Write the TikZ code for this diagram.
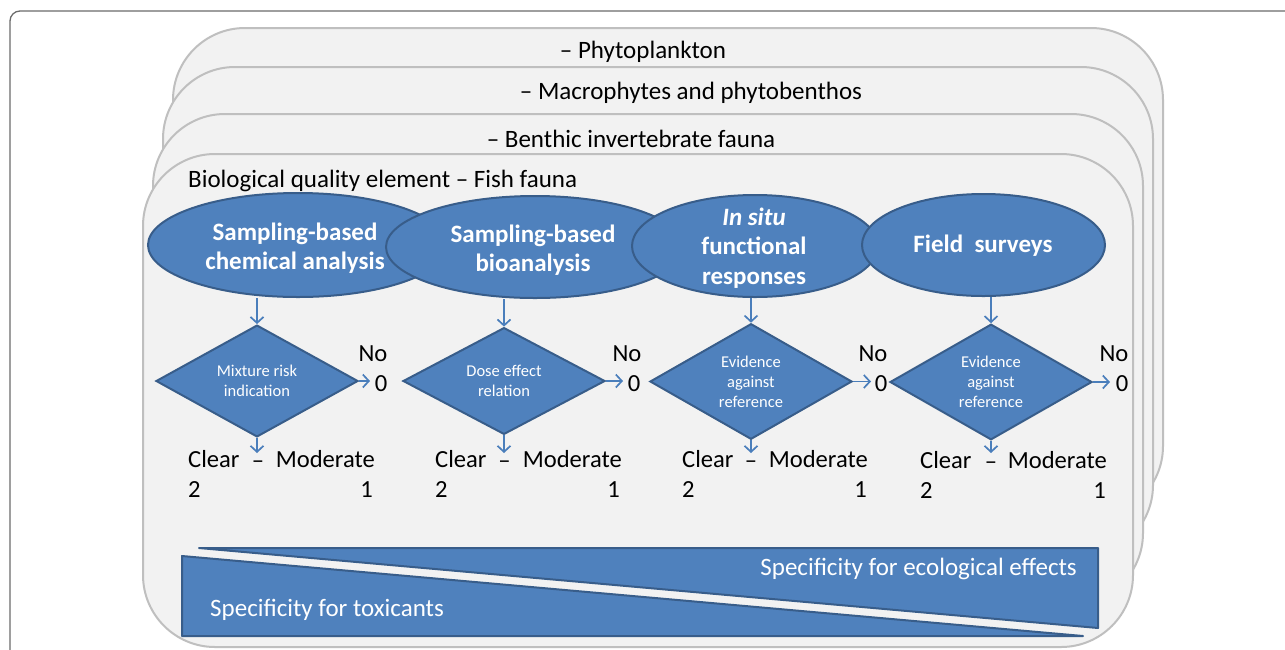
\documentclass[tikz,border=0pt]{standalone}
\usepackage{fontspec}
\setmainfont{Carlito}
\usetikzlibrary{shapes.geometric,arrows.meta,calc}
\definecolor{cardfill}{HTML}{F2F2F2}
\definecolor{cardline}{HTML}{BFBFBF}
\definecolor{bluefill}{HTML}{4F81BD}
\definecolor{blueline}{HTML}{385D8A}
\definecolor{arrowblue}{HTML}{4A7EBB}
\definecolor{framegray}{HTML}{6B6B6B}
\begin{document}
\begin{tikzpicture}[x=1pt,y=-1pt,
  card/.style={draw=cardline,fill=cardfill,line width=2pt,rounded corners=72pt},
  oval/.style={ellipse,draw=blueline,fill=bluefill,line width=2pt,inner sep=0pt},
  ovaltext/.style={text=white,font=\fontsize{25}{29.5}\selectfont\bfseries,align=center,inner sep=0pt},
  decision/.style={diamond,draw=blueline,fill=bluefill,line width=2pt,inner sep=0pt,minimum width=202pt,minimum height=98pt,text=white,font=\fontsize{16.5}{20}\selectfont,align=center},
  arr/.style={draw=arrowblue,line width=1.7pt,-{Straight Barb[length=6pt,width=13pt]}},
  lbl/.style={font=\fontsize{24.6}{29}\selectfont,inner sep=0pt},
  head/.style={font=\fontsize{25}{29}\selectfont,inner sep=0pt},
  wedge/.style={draw=blueline,fill=bluefill,line width=2pt,line join=round},
  wtext/.style={text=white,font=\fontsize{25}{29}\selectfont,inner sep=0pt}
]
\fill[white] (0,0) rectangle (1285,649);
\useasboundingbox (0,0) rectangle (1285,649);
% outer frame
\draw[framegray,line width=1.3pt,rounded corners=10pt] (1300,11) -- (10,11) -- (10,670);
% stacked cards
\draw[card] (173,28) rectangle (1163,518);
\draw[card] (163,67) rectangle (1153,557);
\draw[card] (153,114) rectangle (1143,605);
\draw[card] (143,154) rectangle (1133,647);
\node[head,anchor=base] (h1) at (643,58) {– Phytoplankton};
\node[head,anchor=base] (h2) at (691,99) {– Macrophytes and phytobenthos};
\node[head,anchor=base] (h3) at (631,147) {– Benthic invertebrate fauna};
\node[head,anchor=base west] (h4) at (188,187) {Biological quality element – Fish fauna};
% ellipses
\node[oval,minimum width=300pt,minimum height=104pt] (e1) at (298,245) {};
\node[ovaltext] (t1) at (295,248) {Sampling-based\\chemical analysis};
\node[oval,minimum width=298pt,minimum height=102pt] (e2) at (535,247) {};
\node[ovaltext] (t2) at (533,250) {Sampling-based\\bioanalysis};
\node[oval,minimum width=246pt,minimum height=102pt] (e3) at (755,246) {};
\node[ovaltext] (t3) at (754,248) {\itshape In situ\\functional\\responses};
\node[oval,minimum width=243pt,minimum height=102pt] (e4) at (983.5,245) {};
\node[ovaltext] (t4) at (983,246) {Field\ \ surveys};
% diamonds
\node[decision] (d1) at (257,381) {Mixture risk\\indication};
\node[decision] (d2) at (504,381) {Dose effect\\relation};
\node[decision] (d3) at (751,381.5) {Evidence\\against\\reference};
\node[decision] (d4) at (991,382) {Evidence\\against\\reference};
% arrow ends
\coordinate (r1) at (370,381);
\coordinate (r2) at (623,381);
\coordinate (r3) at (871,381.5);
\coordinate (r4) at (1110,382);
\coordinate (b1) at (257,453);
\coordinate (b2) at (504,453);
\coordinate (b3) at (751,453);
\coordinate (b4) at (991,453);
\foreach \i in {1,2,3,4}{
  \draw[arr] (d\i.north |- e\i.south) -- (d\i.north);
  \draw[arr] (d\i.east) -- (r\i);
  \draw[arr] (d\i.south) -- (b\i);
}
% labels
\node[lbl,anchor=base] (no1) at (373,361) {No};
\node[lbl,anchor=base] (z1) at (381,391) {0};
\node[lbl,anchor=base] (no2) at (627,361) {No};
\node[lbl,anchor=base] (z2) at (634,391) {0};
\node[lbl,anchor=base] (no3) at (873,361) {No};
\node[lbl,anchor=base] (z3) at (881,391) {0};
\node[lbl,anchor=base] (no4) at (1114,361) {No};
\node[lbl,anchor=base] (z4) at (1122,391) {0};
\node[lbl,anchor=base west] (c1) at (188,467) {Clear};
\node[lbl,anchor=base] (s1) at (258,468) {–};
\node[lbl,anchor=base east] (m1) at (375,467) {Moderate};
\node[lbl,anchor=base west] (two1) at (188,497) {2};
\node[lbl,anchor=base east] (one1) at (373,497) {1};
\node[lbl,anchor=base west] (c2) at (435,467) {Clear};
\node[lbl,anchor=base] (s2) at (504.5,468) {–};
\node[lbl,anchor=base east] (m2) at (622,467) {Moderate};
\node[lbl,anchor=base west] (two2) at (435,497) {2};
\node[lbl,anchor=base east] (one2) at (620,497) {1};
\node[lbl,anchor=base west] (c3) at (682,467) {Clear};
\node[lbl,anchor=base] (s3) at (751,468) {–};
\node[lbl,anchor=base east] (m3) at (868,467) {Moderate};
\node[lbl,anchor=base west] (two3) at (682,497) {2};
\node[lbl,anchor=base east] (one3) at (867,497) {1};
\node[lbl,anchor=base west] (c4) at (920,468) {Clear};
\node[lbl,anchor=base] (s4) at (991,469) {–};
\node[lbl,anchor=base east] (m4) at (1107,468) {Moderate};
\node[lbl,anchor=base west] (two4) at (920,498) {2};
\node[lbl,anchor=base east] (one4) at (1106,498) {1};
% specificity wedges
\draw[wedge] (199,548) -- (1098,548) -- (1098,628) -- cycle;
\draw[wedge] (182,556) -- (182,636) -- (1083,636) -- cycle;
\node[wtext,anchor=base east] (se) at (1077,575) {Specificity for ecological effects};
\node[wtext,anchor=base west] (st) at (210,616) {Specificity for toxicants};
\end{tikzpicture}
\end{document}
